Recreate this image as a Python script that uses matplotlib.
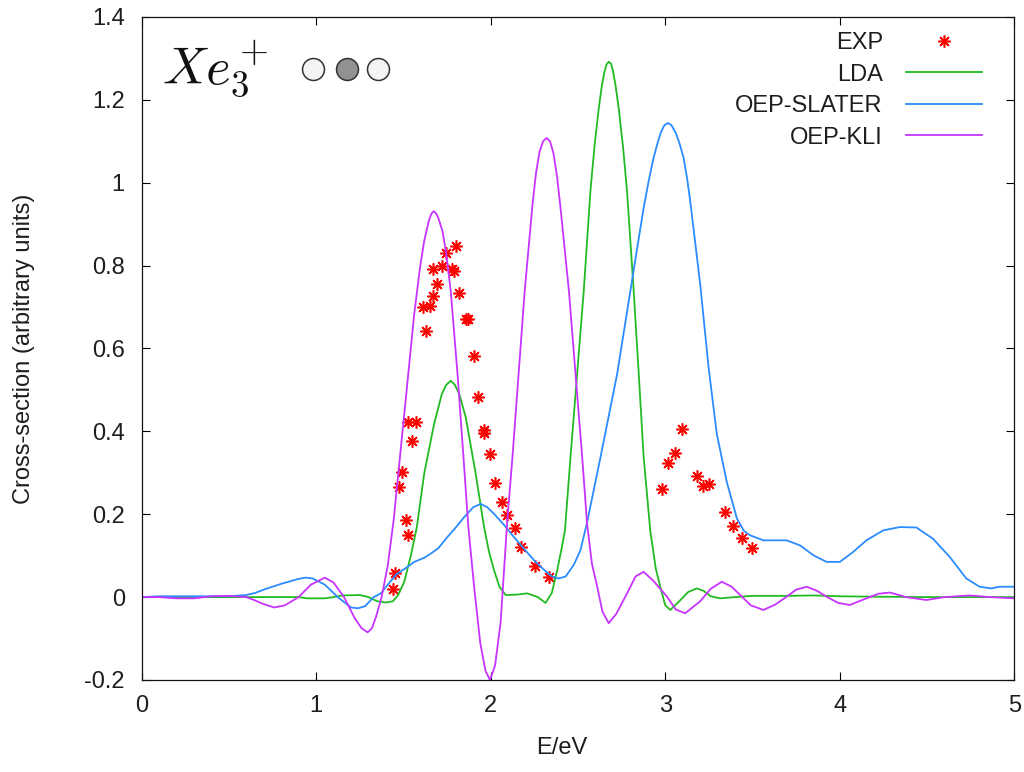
import matplotlib
matplotlib.use('Agg')
import matplotlib.pyplot as plt
from matplotlib.ticker import FormatStrFormatter

plt.rcParams['font.family'] = ['Liberation Sans', 'DejaVu Sans']
plt.rcParams['mathtext.fontset'] = 'cm'
plt.rcParams['axes.unicode_minus'] = False

# experimental points (E in eV, cross-section)
exp_x = [1.442, 1.452, 1.477, 1.494, 1.515, 1.525, 1.525, 1.572, 1.551, 1.628,
         1.611, 1.652, 1.671, 1.671, 1.694, 1.719, 1.742, 1.777, 1.790, 1.801,
         1.818, 1.859, 1.872, 1.904, 1.929, 1.962, 1.962, 1.996, 2.025, 2.066,
         2.092, 2.139, 2.172, 2.256, 2.334,
         2.979, 3.017, 3.056, 3.094, 3.180, 3.218, 3.252, 3.342, 3.389, 3.438, 3.495]
exp_y = [0.019, 0.057, 0.266, 0.303, 0.186, 0.150, 0.423, 0.423, 0.377, 0.643,
         0.699, 0.702, 0.727, 0.791, 0.755, 0.799, 0.830, 0.791, 0.788, 0.847,
         0.735, 0.670, 0.670, 0.582, 0.482, 0.403, 0.395, 0.345, 0.275, 0.230,
         0.198, 0.166, 0.122, 0.076, 0.048,
         0.261, 0.323, 0.347, 0.405, 0.293, 0.268, 0.273, 0.205, 0.172, 0.143, 0.118]

# LDA
lda_x = [0.0, 0.5, 0.9, 0.95, 1.05, 1.1, 1.15, 1.25, 1.3, 1.35,
         1.4, 1.44, 1.47, 1.505, 1.543, 1.577, 1.619, 1.676, 1.72, 1.745,
         1.771, 1.795, 1.82, 1.857, 1.914, 1.962, 1.99, 2.019, 2.05, 2.086,
         2.15, 2.21, 2.27, 2.314, 2.35, 2.381, 2.405, 2.425, 2.457, 2.495,
         2.533, 2.571, 2.595, 2.619, 2.637, 2.65, 2.663, 2.676, 2.69, 2.70,
         2.715, 2.733, 2.757, 2.781, 2.819, 2.848, 2.876, 2.914, 2.945, 2.971,
         3.0, 3.029, 3.08, 3.13, 3.18, 3.22, 3.26, 3.314, 3.43, 3.5,
         3.7, 3.85, 4.0, 4.2, 4.5, 5.0]
lda_y = [0.0, 0.0, 0.0, -0.003, -0.003, 0.0, 0.004, 0.005, 0.0, -0.01,
         -0.013, -0.01, 0.005, 0.037, 0.101, 0.169, 0.298, 0.418, 0.49, 0.512,
         0.522, 0.512, 0.49, 0.434, 0.298, 0.169, 0.11, 0.065, 0.025, 0.005,
         0.006, 0.009, 0.0, -0.014, 0.01, 0.065, 0.115, 0.16, 0.338, 0.538,
         0.739, 0.979, 1.09, 1.18, 1.235, 1.265, 1.285, 1.292, 1.287, 1.27,
         1.235, 1.18, 1.09, 0.979, 0.739, 0.538, 0.338, 0.16, 0.07, 0.025,
         -0.02, -0.031, -0.01, 0.012, 0.021, 0.015, 0.002, -0.003, 0.001, 0.003,
         0.003, 0.004, 0.002, 0.001, 0.0, 0.0]

# OEP-SLATER
slater_x = [0.0, 0.1, 0.3, 0.5, 0.6, 0.65, 0.7, 0.8, 0.9, 0.94,
            0.98, 1.05, 1.124, 1.2, 1.24, 1.28, 1.33, 1.371, 1.42, 1.46,
            1.52, 1.562, 1.62, 1.657, 1.7, 1.752, 1.8, 1.848, 1.9, 1.943,
            1.98, 2.019, 2.075, 2.133, 2.19, 2.248, 2.3, 2.35, 2.39, 2.43,
            2.476, 2.514, 2.552, 2.629, 2.724, 2.8, 2.84, 2.876, 2.905, 2.933,
            2.955, 2.975, 2.995, 3.015, 3.035, 3.06, 3.08, 3.105, 3.125, 3.143,
            3.17, 3.2, 3.248, 3.295, 3.352, 3.41, 3.45, 3.486, 3.562, 3.695,
            3.771, 3.848, 3.924, 4.0, 4.076, 4.152, 4.248, 4.343, 4.438, 4.533,
            4.629, 4.724, 4.8, 4.867, 4.914, 5.0]
slater_y = [0.0, 0.002, 0.002, 0.002, 0.005, 0.01, 0.018, 0.032, 0.044, 0.047,
            0.045, 0.03, 0.0, -0.025, -0.027, -0.022, 0.0, 0.009, 0.035, 0.055,
            0.072, 0.085, 0.095, 0.105, 0.118, 0.145, 0.168, 0.193, 0.217, 0.225,
            0.217, 0.201, 0.175, 0.145, 0.117, 0.089, 0.068, 0.05, 0.045, 0.05,
            0.078, 0.113, 0.18, 0.338, 0.538, 0.739, 0.845, 0.939, 1.005, 1.06,
            1.095, 1.122, 1.139, 1.144, 1.139, 1.12, 1.097, 1.06, 1.01, 0.955,
            0.86, 0.755, 0.554, 0.394, 0.278, 0.19, 0.16, 0.149, 0.137, 0.137,
            0.125, 0.101, 0.085, 0.085, 0.109, 0.137, 0.161, 0.169, 0.168, 0.141,
            0.097, 0.045, 0.025, 0.021, 0.025, 0.025]

# OEP-KLI
kli_x = [0.0, 0.1, 0.2, 0.3, 0.4, 0.5, 0.6, 0.65, 0.7, 0.76,
         0.82, 0.9, 0.97, 1.05, 1.1, 1.16, 1.22, 1.26, 1.295, 1.32,
         1.345, 1.375, 1.41, 1.444, 1.476, 1.514, 1.562, 1.595, 1.619, 1.645,
         1.66, 1.672, 1.686, 1.70, 1.724, 1.745, 1.771, 1.81, 1.844, 1.872,
         1.905, 1.94, 1.97, 1.996, 2.025, 2.057, 2.095, 2.125, 2.16, 2.195,
         2.24, 2.26, 2.28, 2.30, 2.32, 2.34, 2.36, 2.38, 2.4, 2.448,
         2.486, 2.524, 2.552, 2.58, 2.61, 2.64, 2.676, 2.72, 2.781, 2.83,
         2.876, 2.93, 3.01, 3.06, 3.114, 3.2, 3.26, 3.324, 3.38, 3.429,
         3.49, 3.562, 3.63, 3.695, 3.75, 3.81, 3.87, 3.924, 3.99, 4.057,
         4.152, 4.22, 4.286, 4.38, 4.495, 4.6, 4.743, 4.86, 5.0]
kli_y = [0.0, 0.0, -0.003, -0.003, 0.002, 0.003, 0.0, -0.008, -0.017, -0.025,
         -0.02, 0.0, 0.03, 0.047, 0.035, 0.0, -0.05, -0.075, -0.085, -0.075,
         -0.045, 0.0, 0.075, 0.185, 0.32, 0.48, 0.683, 0.795, 0.859, 0.907,
         0.925, 0.931, 0.927, 0.915, 0.883, 0.83, 0.739, 0.538, 0.338, 0.169,
         0.025, -0.11, -0.178, -0.2, -0.165, -0.06, 0.185, 0.34, 0.54, 0.74,
         0.95, 1.025, 1.075, 1.1, 1.108, 1.1, 1.07, 1.015, 0.939, 0.739,
         0.538, 0.338, 0.177, 0.08, 0.025, -0.035, -0.063, -0.04, 0.009, 0.05,
         0.061, 0.04, 0.001, -0.03, -0.039, -0.01, 0.02, 0.037, 0.025, 0.005,
         -0.02, -0.031, -0.018, 0.001, 0.018, 0.025, 0.015, 0.001, -0.014, -0.019,
         -0.003, 0.008, 0.011, 0.0, -0.007, 0.0, 0.004, 0.0, -0.003]

x_ticks = [0, 1, 2, 3, 4, 5]
y_ticks = [-0.2, 0, 0.2, 0.4, 0.6, 0.8, 1, 1.2, 1.4]

txt = '#1e1e1e'
fs = 17

fig = plt.figure(figsize=(10.24, 7.72), dpi=100)
ax = fig.add_axes([0.1382, 0.1192, 0.8525, 0.8588])

ax.plot(exp_x, exp_y, linestyle='none', marker=(8, 2, 0), markersize=8.8,
        markeredgewidth=1.15, color='#ff0000', label='EXP')
ax.plot(lda_x, lda_y, color='#22bb22', lw=1.3, label='LDA')
ax.plot(slater_x, slater_y, color='#2a8cff', lw=1.3, label='OEP-SLATER')
ax.plot(kli_x, kli_y, color='#c833ff', lw=1.3, label='OEP-KLI')

ax.set_xlim(0, 5)
ax.set_ylim(-0.2, 1.4)
ax.set_xticks(x_ticks)
ax.set_yticks(y_ticks)
ax.xaxis.set_major_formatter(FormatStrFormatter('%g'))
ax.yaxis.set_major_formatter(FormatStrFormatter('%g'))
ax.tick_params(direction='in', top=True, right=True, length=6, width=0.8,
               labelsize=fs, labelcolor=txt)
ax.tick_params(axis='x', pad=11)
ax.tick_params(axis='y', pad=12)
for s in ax.spines.values():
    s.set_linewidth(0.9)
    s.set_color('#111111')

ax.set_xlabel('E/eV', fontsize=fs, color=txt)
ax.set_ylabel('Cross-section (arbitrary units)', fontsize=fs, color=txt)
ax.xaxis.set_label_coords(0.4812, -0.1026)
ax.yaxis.set_label_coords(-0.135, 0.5)
ax.xaxis.label.set_va('center')
ax.yaxis.label.set_va('center')

leg = ax.legend(loc='upper right', bbox_to_anchor=(0.9628, 0.977), frameon=False,
                markerfirst=False, fontsize=fs, handlelength=3.2, handletextpad=1.0,
                labelspacing=0.4, borderpad=0, borderaxespad=0)
for t in leg.get_texts():
    t.set_color(txt)

# ion label with orbital occupation sketch
ax.text(0.024, 0.90, r'$Xe_3^+$', transform=ax.transAxes, fontsize=38,
        va='baseline', ha='left', color='#111111')
for cx, fc in [(0.197, '#f4f4f4'), (0.235, '#929292'), (0.2706, '#f4f4f4')]:
    ax.plot([cx], [0.921], transform=ax.transAxes, marker='o', markersize=15.8,
            markerfacecolor=fc, markeredgecolor='#333333', markeredgewidth=1.1,
            clip_on=False)

fig.savefig('out.png', dpi=100)
